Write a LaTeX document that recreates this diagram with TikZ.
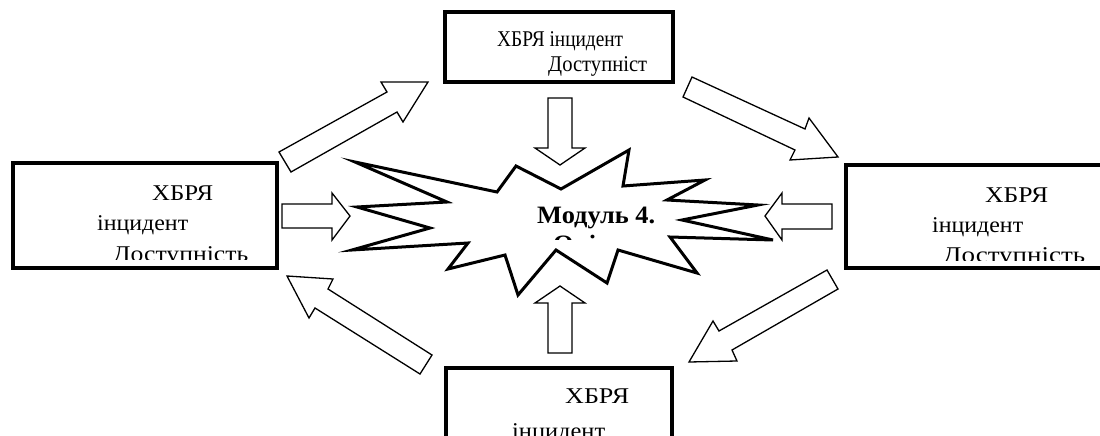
\documentclass[tikz,border=0pt]{standalone}
\usepackage{fontspec}
\usepackage{graphicx}
\setmainfont{Liberation Serif}
\newsavebox\fitbox
\newcommand\fitw[2]{\sbox\fitbox{#2}\pgfmathsetmacro\fitr{#1/\the\wd\fitbox}\global\let\fitlast\fitr\scalebox{\fitr}[1]{\usebox\fitbox}}
\def\fitlast{1}
\begin{document}
\begin{tikzpicture}[x=1pt,y=-1pt,
  framebox/.style={draw, line width=3.5pt, fill=white},
  blockarrow/.style={draw, line width=1.3pt, fill=white, line join=miter},
  starline/.style={draw, line width=3pt, fill=white, line join=miter},
  lbl/.style={inner sep=0pt, anchor=base west, font=\fontsize{22.5}{27}\selectfont},
  boldlbl/.style={inner sep=0pt, anchor=base west, font=\fontsize{25}{29}\selectfont\bfseries}]
\useasboundingbox (0,0) rectangle (1100,436);
\clip (0,0) rectangle (1100,436);

% boxes
\draw[framebox] (445,12) rectangle (673,82);
\draw[framebox] (13,163) rectangle (277,268);
\draw[framebox] (846,165) rectangle (1120,268);
\draw[framebox] (446,368) rectangle (672,460);

% box texts
\node[lbl] (t1) at (497,47) {\fitw{126}{ХБРЯ інцидент}};
\node[lbl] (t2) at (548,71) {\fitw{99}{Доступніст}};

\node[lbl] (l1) at (152,200) {\fitw{61}{ХБРЯ}};
\node[lbl] (l2) at (97,230) {\fitw{91}{інцидент}};
\begin{scope}
  \clip (20,170) rectangle (270,259);
  \node[lbl] (l3) at (113,261) {\fitw{135}{Доступність}};
\end{scope}

\node[lbl] (r1) at (985,202) {\fitw{63}{ХБРЯ}};
\node[lbl] (r2) at (932,232) {\fitw{91}{інцидент}};
\begin{scope}
  \clip (853,172) rectangle (1095,260);
  \node[lbl] (r3) at (943,262) {\fitw{142}{Доступність}};
\end{scope}

\node[lbl] (b1) at (565,403) {\fitw{64}{ХБРЯ}};
\node[lbl] (b2) at (512,438) {\fitw{93}{інцидент}};

% star
\draw[starline] (355,162) -- (497,192) -- (516,166) -- (561,189) -- (629,150)
  -- (623,186) -- (705,180) -- (667,200) -- (758,205) -- (682,220)
  -- (773,240) -- (670,237) -- (697,273) -- (618,250) -- (607,283)
  -- (556,250) -- (518,295) -- (505,255) -- (448,269) -- (468,243)
  -- (352,250) -- (430,228) -- (357,207) -- (447,202) -- cycle;
\node[boldlbl] (s1) at (537,223) {\fitw{118}{Модуль 4.}};
\begin{scope}
  \clip (530,228) rectangle (660,239);
  \node[boldlbl] (s2) at (553,252) {\scalebox{\fitlast}[1]{Оцінка}};
\end{scope}

% diagonal block arrows
\draw[blockarrow] (279,152) -- (387,92) -- (381,82) -- (428,82) -- (403,122) -- (397,112) -- (291,172) -- cycle;
\draw[blockarrow] (692,77) -- (805,129) -- (809,118) -- (838,157) -- (790,160) -- (795,150) -- (683,97) -- cycle;
\draw[blockarrow] (287,276) -- (333,279) -- (328,289) -- (432,355) -- (420,374) -- (315,308) -- (309,318) -- cycle;
\draw[blockarrow] (827,270) -- (838,289) -- (732,350) -- (737,361) -- (689,362) -- (713,321) -- (719,331) -- cycle;

% straight block arrows
\draw[blockarrow] (282,204) -- (332,204) -- (332,193) -- (350,216) -- (332,240) -- (332,228) -- (282,228) -- cycle;
\draw[blockarrow] (832,204) -- (782,204) -- (782,193) -- (765,216) -- (782,240) -- (782,229) -- (832,229) -- cycle;
\draw[blockarrow] (548,98) -- (572,98) -- (572,148) -- (585,148) -- (560,165) -- (535,148) -- (548,148) -- cycle;
\draw[blockarrow] (548,353) -- (572,353) -- (572,303) -- (585,303) -- (560,286) -- (535,303) -- (548,303) -- cycle;
\end{tikzpicture}
\end{document}
